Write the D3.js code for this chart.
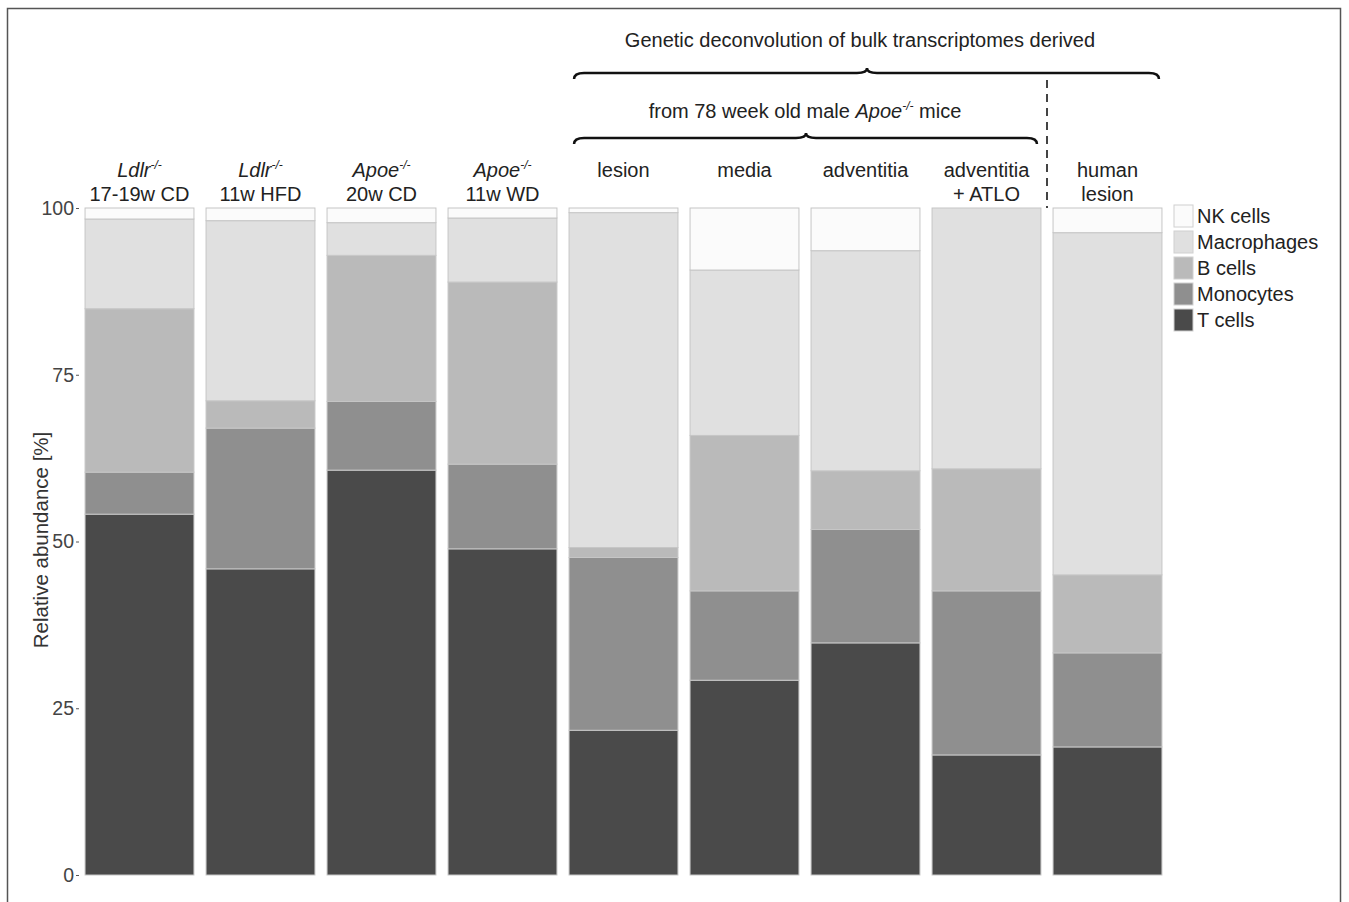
<!DOCTYPE html>
<html>
<head>
<meta charset="utf-8">
<script src="https://cdn.jsdelivr.net/npm/d3@7"></script>
<style>
  body { margin: 0; background: #fff; }
  svg { font-family: "Liberation Sans", Arial, sans-serif; }
</style>
</head>
<body>
<svg id="chart" width="1349" height="902"></svg>
<script>
// Categorias (genótipo em itálico + condição)
const categorias = ["ldlr_cd", "ldlr_hfd", "apoe_cd", "apoe_wd", "lesion", "media", "adventitia", "atlo", "human"];
const rotuloGene = ["Ldlr", "Ldlr", "Apoe", "Apoe", null, null, null, null, null];
const rotuloLinha1 = [null, null, null, null, "lesion", "media", "adventitia", "adventitia", "human"];
const rotuloLinha2 = ["17-19w CD", "11w HFD", "20w CD", "11w WD", null, null, null, "+ ATLO", "lesion"];

// Séries (percentuais de cada tipo celular)
const tCells      = [54.1, 45.9, 60.7, 48.9, 21.7, 29.2, 34.8, 18.0, 19.2];
const monocytes   = [6.3, 21.1, 10.3, 12.7, 25.9, 13.4, 17.0, 24.6, 14.1];
const bCells      = [24.5, 4.1, 21.9, 27.3, 1.5, 23.3, 8.8, 18.3, 11.7];
const macrophages = [13.45, 27.0, 4.9, 9.6, 50.2, 24.8, 33.0, 39.1, 51.3];
const nkCells     = [1.65, 1.9, 2.2, 1.5, 0.7, 9.3, 6.4, 0.0, 3.7];

const series = ["T cells", "Monocytes", "B cells", "Macrophages", "NK cells"];
const cores = ["#4a4a4a", "#8f8f8f", "#bababa", "#e0e0e0", "#fbfbfb"];
const yTicks = [0, 25, 50, 75, 100];

const valores = [tCells, monocytes, bCells, macrophages, nkCells];
const dados = categorias.map((c, i) => {
    const linha = { cat: c };
    series.forEach((s, j) => linha[s] = valores[j][i]);
    return linha;
});

const svg = d3.select("#chart");

// Moldura externa
svg.append("rect")
    .attr("x", 7.5).attr("y", 8.5)
    .attr("width", 1333).attr("height", 1000)
    .attr("fill", "none").attr("stroke", "#555").attr("stroke-width", 1.5);

const x = d3.scaleBand()
    .domain(categorias)
    .range([79, 1168])
    .paddingInner(0.1)
    .paddingOuter(0.05);

const y = d3.scaleLinear()
    .domain([0, 100])
    .range([875, 208]);

const pilha = d3.stack().keys(series)(dados);

svg.append("g")
    .selectAll("g")
    .data(pilha)
    .join("g")
    .attr("fill", (d, i) => cores[i])
    .selectAll("rect")
    .data(d => d)
    .join("rect")
    .attr("x", d => x(d.data.cat))
    .attr("y", d => y(d[1]))
    .attr("width", x.bandwidth())
    .attr("height", d => y(d[0]) - y(d[1]))
    .attr("stroke", "#c6c6c6")
    .attr("stroke-width", 1);

// Eixo Y (só ticks, sem linha)
const eixoY = svg.append("g")
    .attr("transform", "translate(79,0)")
    .call(d3.axisLeft(y).tickValues(yTicks).tickSize(3).tickPadding(2));
eixoY.select(".domain").remove();
eixoY.selectAll(".tick line").attr("stroke", "#555");
eixoY.selectAll(".tick text")
    .attr("fill", "#444")
    .style("font-size", "19.5px")
    .style("font-family", "Liberation Sans, Arial, sans-serif");

svg.append("text")
    .attr("transform", "translate(48,540) rotate(-90)")
    .attr("text-anchor", "middle")
    .attr("fill", "#333")
    .style("font-size", "20.5px")
    .text("Relative abundance [%]");

// Rótulos das categorias
const rotulos = svg.append("g")
    .style("font-size", "20px")
    .attr("fill", "#222")
    .attr("text-anchor", "middle");

categorias.forEach((c, i) => {
    const cx = x(c) + x.bandwidth() / 2;
    if (rotuloGene[i]) {
        const t = rotulos.append("text").attr("x", cx).attr("y", 177);
        t.append("tspan").style("font-style", "italic").text(rotuloGene[i]);
        t.append("tspan").style("font-style", "italic").style("font-size", "12px")
            .attr("dy", -8).text("-/-");
    }
    if (rotuloLinha1[i]) {
        rotulos.append("text").attr("x", cx).attr("y", 177).text(rotuloLinha1[i]);
    }
    if (rotuloLinha2[i]) {
        rotulos.append("text").attr("x", cx).attr("y", 201).text(rotuloLinha2[i]);
    }
});

// Chaves (braces) acima dos grupos
function chave(x1, x2, yy, xm) {
    const m = xm || (x1 + x2) / 2;
    return `M${x1},${yy + 6} Q${x1},${yy} ${x1 + 10},${yy} L${m - 10},${yy} Q${m},${yy} ${m},${yy - 5} ` +
        `Q${m},${yy} ${m + 10},${yy} L${x2 - 10},${yy} Q${x2},${yy} ${x2},${yy + 6}`;
}

const xLesion = x("lesion");
const xHuman = x("human") + x.bandwidth();
const xAtlo = x("atlo") + x.bandwidth();

svg.append("path")
    .attr("d", chave(xLesion + 5, xHuman - 3, 73, 867))
    .attr("fill", "none").attr("stroke", "#111").attr("stroke-width", 2.5);

svg.append("path")
    .attr("d", chave(xLesion + 5, xAtlo - 4, 138, 806))
    .attr("fill", "none").attr("stroke", "#111").attr("stroke-width", 2.5);

svg.append("text")
    .attr("x", 860).attr("y", 47)
    .attr("text-anchor", "middle").attr("fill", "#222")
    .style("font-size", "20px")
    .text("Genetic deconvolution of bulk transcriptomes derived");

const t2 = svg.append("text")
    .attr("x", 805).attr("y", 118)
    .attr("text-anchor", "middle").attr("fill", "#222")
    .style("font-size", "20px");
t2.append("tspan").text("from 78 week old male ");
t2.append("tspan").style("font-style", "italic").text("Apoe");
t2.append("tspan").style("font-style", "italic").style("font-size", "12px").attr("dy", -8).text("-/-");
t2.append("tspan").attr("dy", 8).text(" mice");

// Linha tracejada separando humano
const xSep = (xAtlo + x("human")) / 2;
svg.append("line")
    .attr("x1", xSep).attr("x2", xSep)
    .attr("y1", 80).attr("y2", 208)
    .attr("stroke", "#444").attr("stroke-width", 2)
    .attr("stroke-dasharray", "8,6");

// Legenda
const legendaOrdem = ["NK cells", "Macrophages", "B cells", "Monocytes", "T cells"];
const legenda = svg.append("g").attr("transform", "translate(1174,205)");
legendaOrdem.forEach((s, i) => {
    const idx = series.indexOf(s);
    legenda.append("rect")
        .attr("x", 0).attr("y", i * 26)
        .attr("width", 19).attr("height", 22)
        .attr("fill", cores[idx]).attr("stroke", "#d0d0d0");
    legenda.append("text")
        .attr("x", 23).attr("y", i * 26 + 18)
        .attr("fill", "#222")
        .style("font-size", "20px")
        .text(s);
});
</script>
</body>
</html>
